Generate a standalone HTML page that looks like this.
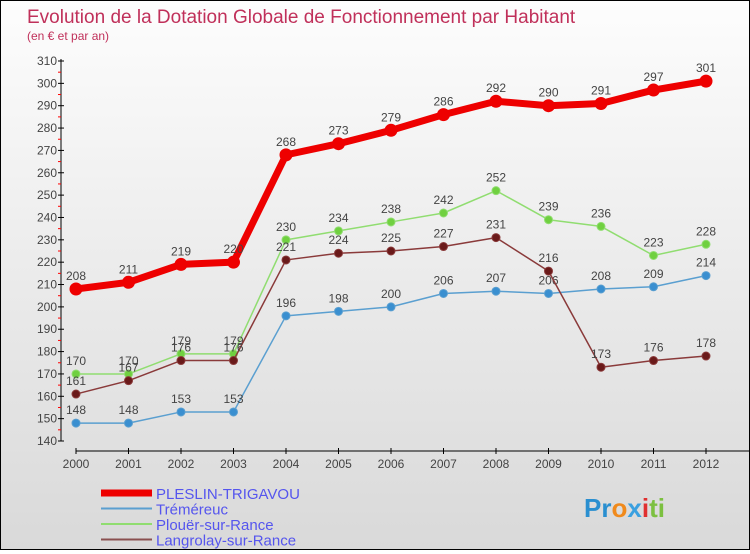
<!DOCTYPE html>
<html><head><meta charset="utf-8"><style>
html,body{margin:0;padding:0}
body{width:750px;height:550px;overflow:hidden;font-family:"Liberation Sans",sans-serif}
#wrap{position:relative;width:748px;height:548px;border:1px solid #000;background:linear-gradient(#fdfdfd,#d9d9d9)}
</style></head><body>
<div id="wrap">
<svg id="chart" width="748" height="548">
<text x="26" y="22" font-size="19" fill="#c0305a">Evolution de la Dotation Globale de Fonctionnement par Habitant</text>
<text x="26" y="39" font-size="12" fill="#c0305a">(en € et par an)</text>
<g id="axes"></g><g id="series"></g><g id="legend"></g>
<g font-size="26" font-weight="bold">
<text x="583" y="516" fill="#2a8fd0">Pr<tspan fill="#f08a1c">o</tspan><tspan fill="#3aa0e0">x</tspan><tspan fill="#e03030">i</tspan><tspan fill="#7cc040">ti</tspan></text>
</g>
</svg>
</div>
<script>
const years=[2000,2001,2002,2003,2004,2005,2006,2007,2008,2009,2010,2011,2012];
const yTicks=[140,150,160,170,180,190,200,210,220,230,240,250,260,270,280,290,300,310];
const pleslin=[208,211,219,220,268,273,279,286,292,290,291,297,301];
const tremereuc=[148,148,153,153,196,198,200,206,207,206,208,209,214];
const plouer=[170,170,179,179,230,234,238,242,252,239,236,223,228];
const langrolay=[161,167,176,176,221,224,225,227,231,216,173,176,178];
const NS="http://www.w3.org/2000/svg";
const X=i=>75+i*52.5;
const Y=v=>440-(v-140)*380/170;
function mk(tag,attrs,parent){const e=document.createElementNS(NS,tag);for(const k in attrs)e.setAttribute(k,attrs[k]);parent.appendChild(e);return e;}
const ax=document.getElementById('axes');
let l=mk('line',{x1:60,y1:58,x2:60,y2:440,stroke:'#000','stroke-width':1},ax);


yTicks.forEach(v=>{
  mk('line',{x1:57,x2:63,y1:Y(v),y2:Y(v),stroke:'#000'},ax);
  if(v<310)mk('line',{x1:57,x2:60,y1:Y(v+5),y2:Y(v+5),stroke:'#f00'},ax);
  const t=mk('text',{x:56,y:Y(v)+4,'text-anchor':'end','font-size':12,fill:'#444'},ax);
  t.textContent=v;
  
  
});
l=mk('line',{x1:75,y1:450,x2:748,y2:450,stroke:'#000','stroke-width':1},ax);


years.forEach((yr,i)=>{
  mk('line',{x1:X(i),x2:X(i),y1:447,y2:453,stroke:'#000'},ax);
  const t=mk('text',{x:X(i),y:467,'text-anchor':'middle','font-size':12,fill:'#444'},ax);
  t.textContent=yr;
  
  
});
const sg=document.getElementById('series');
function series(vals,color,dot,w,r,name){
  const g=mk('g',{},sg);
  
  
  mk('polyline',{points:vals.map((v,i)=>X(i)+','+Y(v)).join(' '),fill:'none',stroke:color,'stroke-width':w,'stroke-linejoin':'round'},g);
  vals.forEach((v,i)=>{
    const c=mk('circle',{cx:X(i),cy:Y(v),r:r,fill:dot,stroke:color,'stroke-width':1},g);
    
    
    const t=mk('text',{x:X(i),y:Y(v)-9,'text-anchor':'middle','font-size':12,fill:'#444'},g);
    t.textContent=v;
    
    
  });
}
series(tremereuc,'#5a9fd0','#3a8fd0',1.5,4,'series-tremereuc');
series(plouer,'#90dd70','#70d040',1.5,4,'series-plouer');
series(langrolay,'#8a3a3a','#6a1a1a',1.5,4,'series-langrolay');
series(pleslin,'#ee0000','#ee0000',7,6,'series-pleslin');
const lg=document.getElementById('legend');
[['PLESLIN-TRIGAVOU','#ee0000',7],['Tréméreuc','#5a9fd0',2],['Plouër-sur-Rance','#90dd70',2],['Langrolay-sur-Rance','#8a5050',2]].forEach((d,i)=>{
  const g=mk('g',{},lg);
  
  
  const y=492+i*15.5;
  mk('line',{x1:100,x2:151,y1:y,y2:y,stroke:d[1],'stroke-width':d[2]},g);
  const t=mk('text',{x:155,y:y+6,'font-size':15,fill:'#5555ee'},g);
  t.textContent=d[0];
});
</script>
</body></html>
